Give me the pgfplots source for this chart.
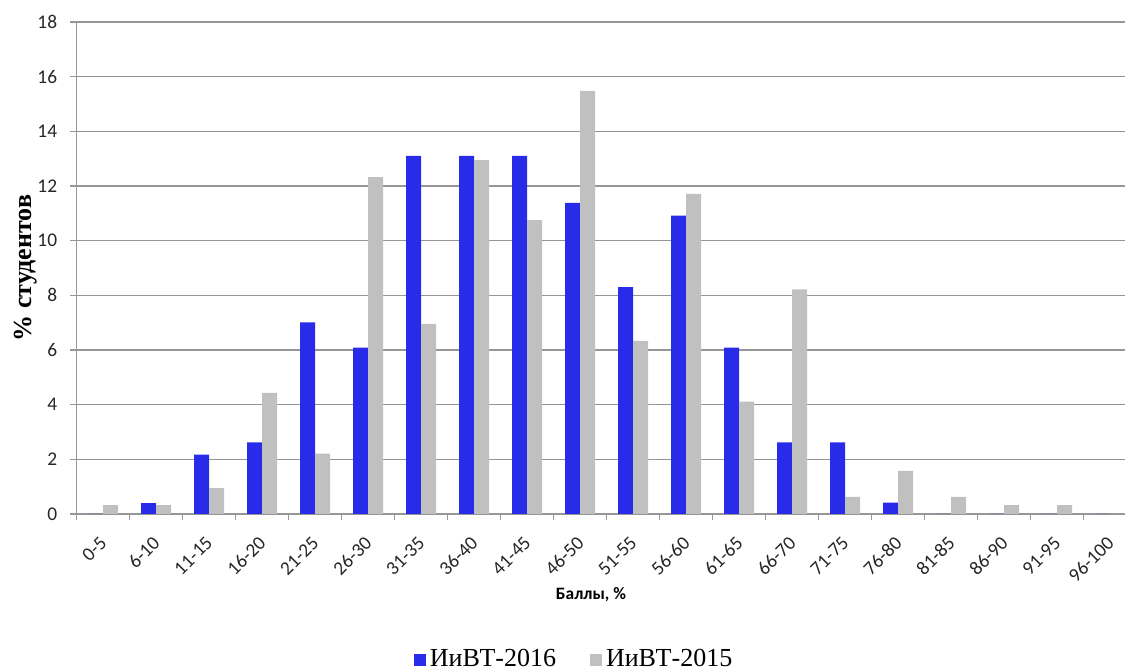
\documentclass[border=0pt]{standalone}
\usepackage{fontspec}
\setmainfont{Liberation Serif}
\newfontfamily\carlito{Carlito}
\newfontfamily\timesfont{Liberation Serif}
\usepackage{pgfplots}
\pgfplotsset{compat=1.18}
\definecolor{barblue}{RGB}{40,44,232}
\definecolor{bargray}{RGB}{192,192,192}
\definecolor{gridgray}{RGB}{150,150,150}
\begin{document}
\begin{tikzpicture}
\begin{axis}[
  at={(0,0)}, anchor=south west,
  scale only axis, width=524.25pt, height=246pt,
  xmin=-0.5, xmax=19.28, ymin=0, ymax=18,
  axis x line*=bottom, axis y line*=left,
  axis line style={draw=gridgray, line width=0.75pt, -},
  ytick={0,2,...,18},
  ymajorgrids, grid style={draw=gridgray, line width=0.75pt},
  xtick={0,...,19},
  xticklabels={0-5,6-10,11-15,16-20,21-25,26-30,31-35,36-40,41-45,46-50,51-55,56-60,61-65,66-70,71-75,76-80,81-85,86-90,91-95,96-100},
  minor xtick={-0.5,0.5,...,19.5},
  tick align=outside,
  major tick length=3pt, minor tick length=3pt,
  major x tick style={draw=none},
  minor x tick style={draw=gridgray, line width=0.75pt},
  y tick style={draw=gridgray, line width=0.75pt},
  /pgf/number format/assume math mode=true,
  ticklabel style={font=\carlito\fontsize{9.7}{9.7}\selectfont, text=black!85},
  xticklabel style={rotate=45, anchor=east, inner sep=1pt, xshift=-5.66pt, yshift=-7.07pt},
  yticklabel style={inner sep=2pt, xshift=-4.5pt},
  xlabel={Баллы, \%},
  xlabel style={font=\carlito\bfseries\fontsize{8.7}{8.7}\selectfont, at={(axis description cs:0.4907,0)}, anchor=center, yshift=-40.5pt},
  ylabel={\% студентов},
  ylabel style={font=\timesfont\bfseries\fontsize{13}{13}\selectfont, at={(axis description cs:-0.0482,0.5)}, anchor=center},
  ybar, bar width=7.5pt,
  legend columns=2,
  legend style={at={(axis description cs:0.4755,-0.266)}, anchor=north, draw=none, fill=none, inner sep=0pt,
    font=\timesfont\fontsize{13}{13}\selectfont,
    /tikz/every even column/.append style={column sep=15pt}},
  legend cell align=left,
]
\addplot[fill=barblue, draw=none, bar shift=-3.75pt,
  legend image code/.code={\fill[barblue] (0pt,-3.5pt) rectangle (6pt,2.5pt);}]
coordinates {(0,0) (1,0.40) (2,2.17) (3,2.62) (4,7.01) (5,6.09) (6,13.1) (7,13.1) (8,13.1) (9,11.38) (10,8.30) (11,10.92) (12,6.09) (13,2.62) (14,2.62) (15,0.42) (16,0) (17,0) (18,0) (19,0)};
\addlegendentry{ИиВТ-2016}
\addplot[fill=bargray, draw=none, bar shift=3.75pt,
  legend image code/.code={\fill[bargray] (0pt,-3.5pt) rectangle (6pt,2.5pt);}]
coordinates {(0,0.32) (1,0.32) (2,0.95) (3,4.43) (4,2.21) (5,12.32) (6,6.96) (7,12.95) (8,10.75) (9,15.48) (10,6.33) (11,11.71) (12,4.11) (13,8.22) (14,0.63) (15,1.58) (16,0.63) (17,0.32) (18,0.32) (19,0)};
\addlegendentry{ИиВТ-2015}
\end{axis}
\pgfresetboundingbox
\path[use as bounding box] (-38.25pt,-76.5pt) rectangle (524.25pt,257pt);
\end{tikzpicture}
\end{document}
